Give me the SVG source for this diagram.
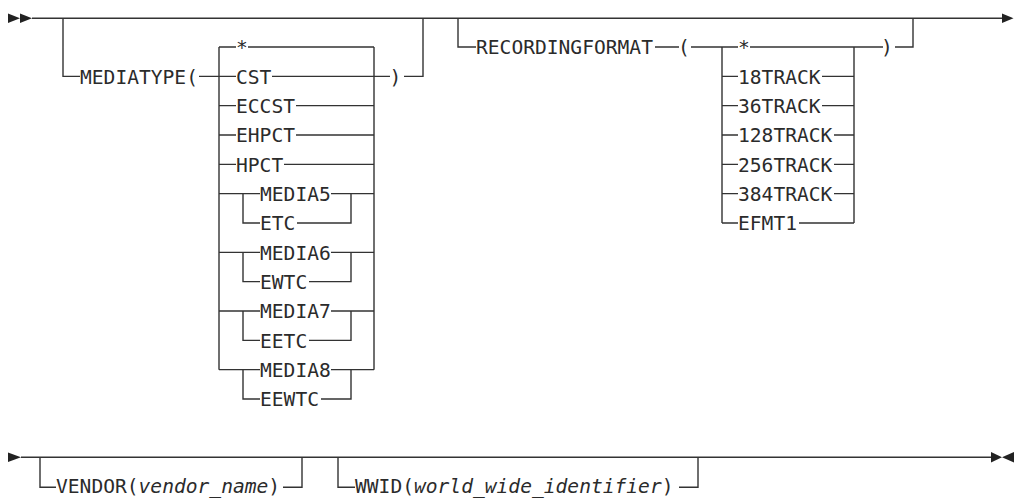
<svg xmlns="http://www.w3.org/2000/svg" width="1016" height="498" viewBox="0 0 1016 498">
<style>
.t{font-family:"DejaVu Sans Mono","Liberation Mono",monospace;font-size:19.6px;fill:#2b2b2b}
.i{font-style:italic}
.c{fill:none;stroke:#333;stroke-width:1.4}
.a{fill:#222}
</style>
<rect width="1016" height="498" fill="#fff"/>
<g id="connectors">
<path class="c" d="M32 18.3H1002"/>
<path class="c" d="M63 18.3V76.33H80M199 76.33H236M219 47V369.67M374 47V369.67M219 47H236M248 47H374M272 76.33H390M404 76.33H423V18.3"/>
<path class="c" d="M219 105.67H236M296 105.67H374M219 135H236M296 135H374M219 164.33H236M284 164.33H374"/>
<path class="c" d="M219 193.67H260M331 193.67H374M243 193.67V223H260M297 223H351V193.67"/>
<path class="c" d="M219 252.33H260M331 252.33H374M243 252.33V281.67H260M309 281.67H351V252.33"/>
<path class="c" d="M219 311H260M331 311H374M243 311V340.33H260M309 340.33H351V311"/>
<path class="c" d="M219 369.67H260M331 369.67H374M243 369.67V399H260M321 399H351V369.67"/>
<path class="c" d="M458 18.3V47H476M655 47H679M691 47H738M722 47V223M854 47V223M750 47H883M895 47H913V18.3"/>
<path class="c" d="M722 76.33H738M822 76.33H854M722 105.67H738M822 105.67H854M722 135H738M834 135H854M722 164.33H738M834 164.33H854M722 193.67H738M834 193.67H854M722 223H738M799 223H854"/>
<path class="c" d="M21 457.3H991M40 457.3V487.3H56M283 487.3H302V457.3M338 457.3V487.3H355M679 487.3H698V457.3"/>
<polygon class="a" points="8,13.5 20,18.3 8,23"/>
<polygon class="a" points="20,13.5 32,18.3 20,23"/>
<polygon class="a" points="1002,13.5 1013.5,18.3 1002,23"/>
<polygon class="a" points="8,452.5 21,457.3 8,462"/>
<polygon class="a" points="991,452 1002,457.3 991,462.5"/>
<polygon class="a" points="1014,452 1002,457.3 1014,462.5"/>
</g>
<g id="mediatype"><text class="t" x="80" y="83.6">MEDIATYPE(</text><text class="t" x="389.5" y="83.6">)</text></g>
<g id="mt-star"><text class="t" x="236" y="54.3">*</text></g>
<g id="mt-cst"><text class="t" x="236" y="83.6">CST</text></g>
<g id="mt-eccst"><text class="t" x="236" y="113">ECCST</text></g>
<g id="mt-ehpct"><text class="t" x="236" y="142.3">EHPCT</text></g>
<g id="mt-hpct"><text class="t" x="236" y="171.6">HPCT</text></g>
<g id="mt-media5"><text class="t" x="260" y="201">MEDIA5</text></g>
<g id="mt-etc"><text class="t" x="260" y="230.3">ETC</text></g>
<g id="mt-media6"><text class="t" x="260" y="259.6">MEDIA6</text></g>
<g id="mt-ewtc"><text class="t" x="260" y="289">EWTC</text></g>
<g id="mt-media7"><text class="t" x="260" y="318.3">MEDIA7</text></g>
<g id="mt-eetc"><text class="t" x="260" y="347.6">EETC</text></g>
<g id="mt-media8"><text class="t" x="260" y="377">MEDIA8</text></g>
<g id="mt-eewtc"><text class="t" x="260" y="406.3">EEWTC</text></g>
<g id="recordingformat"><text class="t" x="476" y="54.3">RECORDINGFORMAT</text><text class="t" x="678" y="54.3">(</text><text class="t" x="881" y="54.3">)</text></g>
<g id="rf-star"><text class="t" x="738" y="54.3">*</text></g>
<g id="rf-18"><text class="t" x="738" y="83.6">18TRACK</text></g>
<g id="rf-36"><text class="t" x="738" y="113">36TRACK</text></g>
<g id="rf-128"><text class="t" x="738" y="142.3">128TRACK</text></g>
<g id="rf-256"><text class="t" x="738" y="171.6">256TRACK</text></g>
<g id="rf-384"><text class="t" x="738" y="201">384TRACK</text></g>
<g id="rf-efmt1"><text class="t" x="738" y="230.3">EFMT1</text></g>
<g id="vendor"><text class="t" x="56" y="493">VENDOR(<tspan class="i">vendor_name</tspan>)</text></g>
<g id="wwid"><text class="t" x="355" y="493">WWID(<tspan class="i">world_wide_identifier</tspan>)</text></g>
</svg>
